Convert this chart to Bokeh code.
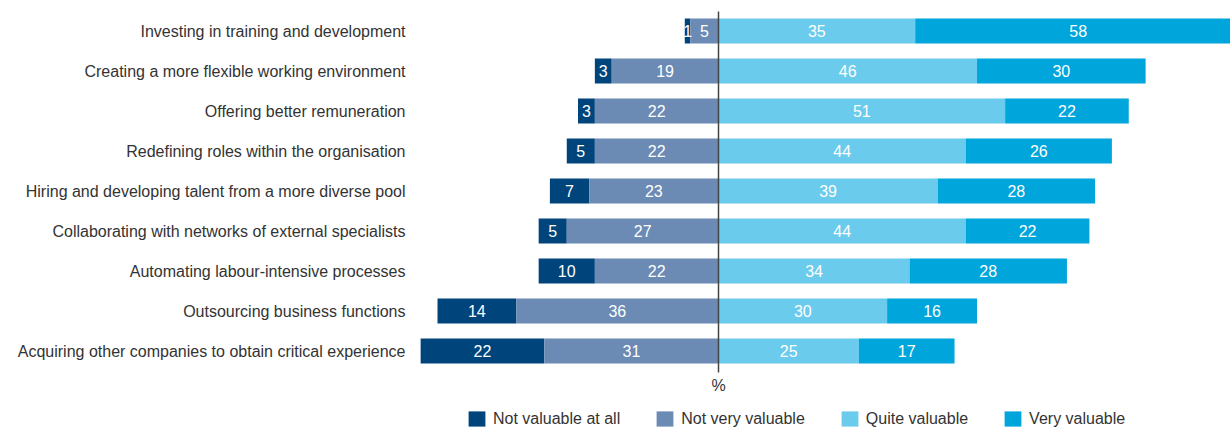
from bokeh.plotting import figure
from bokeh.models import Range1d, FixedTicker, Legend, LegendItem, Label, ColumnDataSource
from bokeh.embed import file_html
from bokeh.resources import INLINE
from bokeh.core.properties import value

categories = [
    "Investing in training and development",
    "Creating a more flexible working environment",
    "Offering better remuneration",
    "Redefining roles within the organisation",
    "Hiring and developing talent from a more diverse pool",
    "Collaborating with networks of external specialists",
    "Automating labour-intensive processes",
    "Outsourcing business functions",
    "Acquiring other companies to obtain critical experience",
]
not_at_all = [1, 3, 3, 5, 7, 5, 10, 14, 22]
not_very = [5, 19, 22, 22, 23, 27, 22, 36, 31]
quite = [35, 46, 51, 44, 39, 44, 34, 30, 25]
very = [58, 30, 22, 26, 28, 22, 28, 16, 17]
series_names = ["Not valuable at all", "Not very valuable", "Quite valuable", "Very valuable"]
colors = ["#00447c", "#6b8ab4", "#6acbec", "#00a6db"]

FONT = "Liberation Sans"
FS = "16px"
n = len(categories)
ys = list(range(n))

d_left = [-(a + b) for a, b in zip(not_at_all, not_very)]
d_right = [-b for b in not_very]
nv_left = [-b for b in not_very]
nv_right = [0] * n
q_left = [0] * n
q_right = quite[:]
v_left = quite[:]
v_right = [q + v for q, v in zip(quite, very)]

src = ColumnDataSource(dict(
    y=ys,
    d_left=d_left, d_right=d_right, d_mid=[(l + r) / 2 for l, r in zip(d_left, d_right)], d_txt=[str(v) for v in not_at_all],
    nv_left=nv_left, nv_right=nv_right, nv_mid=[(l + r) / 2 for l, r in zip(nv_left, nv_right)], nv_txt=[str(v) for v in not_very],
    q_left=q_left, q_right=q_right, q_mid=[(l + r) / 2 for l, r in zip(q_left, q_right)], q_txt=[str(v) for v in quite],
    v_left=v_left, v_right=v_right, v_mid=[(l + r) / 2 for l, r in zip(v_left, v_right)], v_txt=[str(v) for v in very],
))

W, H = 1230, 428
LEFT = 412
PX = 5.62  # pixels per percentage point
zero_px = 718 - LEFT
frame_w = W - LEFT
x0 = -zero_px / PX
x1 = (frame_w - zero_px) / PX

row_px = 40.0
top_off = 30.5
y_top = -top_off / row_px
y_bot = (H - top_off) / row_px

p = figure(width=W, height=H, output_backend="svg", toolbar_location=None,
           x_range=Range1d(x0, x1), y_range=Range1d(y_bot, y_top),
           x_axis_location=None, min_border_left=LEFT, min_border_right=0,
           min_border_top=0, min_border_bottom=0)
p.outline_line_color = None
p.xgrid.visible = False
p.ygrid.visible = False
p.background_fill_color = "white"

h = 0.625
r1 = p.hbar(y="y", left="d_left", right="d_right", height=h, color=colors[0], line_color=None, source=src)
r2 = p.hbar(y="y", left="nv_left", right="nv_right", height=h, color=colors[1], line_color=None, source=src)
r3 = p.hbar(y="y", left="q_left", right="q_right", height=h, color=colors[2], line_color=None, source=src)
r4 = p.hbar(y="y", left="v_left", right="v_right", height=h, color=colors[3], line_color=None, source=src)

for key in ["d", "nv", "q", "v"]:
    p.text(x=key + "_mid", y="y", text=key + "_txt", source=src, text_color="white",
           text_font=value(FONT), text_font_size=FS, text_align="center", text_baseline="middle")

# zero line
p.segment(x0=[0], y0=[-0.4875], x1=[0], y1=[n - 1 + 0.54], line_color="#444444", line_width=1.5)

p.add_layout(Label(x=0, y=n - 1 + 0.87, text="%", text_font=FONT, text_font_size=FS,
                   text_color="#333333", text_align="center", text_baseline="middle"))

ax = p.yaxis[0]
ax.ticker = FixedTicker(ticks=ys)
ax.major_label_overrides = {i: c for i, c in enumerate(categories)}
ax.axis_line_color = None
ax.major_tick_line_color = None
ax.minor_tick_line_color = None
ax.major_tick_in = 0
ax.major_tick_out = 0
ax.major_label_standoff = 7
ax.major_label_text_font = FONT
ax.major_label_text_font_size = FS
ax.major_label_text_color = "#333333"

legend = Legend(items=[LegendItem(label=series_names[i], renderers=[r]) for i, r in enumerate([r1, r2, r3, r4])],
                orientation="horizontal", location=(54, 0), glyph_width=21, glyph_height=19,
                label_standoff=6, spacing=34, padding=0, margin=0, border_line_color=None,
                background_fill_alpha=0, label_text_font=FONT, label_text_font_size=FS,
                label_text_color="#333333", label_height=19)
p.add_layout(legend, "center")

open("out.html", "w").write(file_html(p, INLINE))
